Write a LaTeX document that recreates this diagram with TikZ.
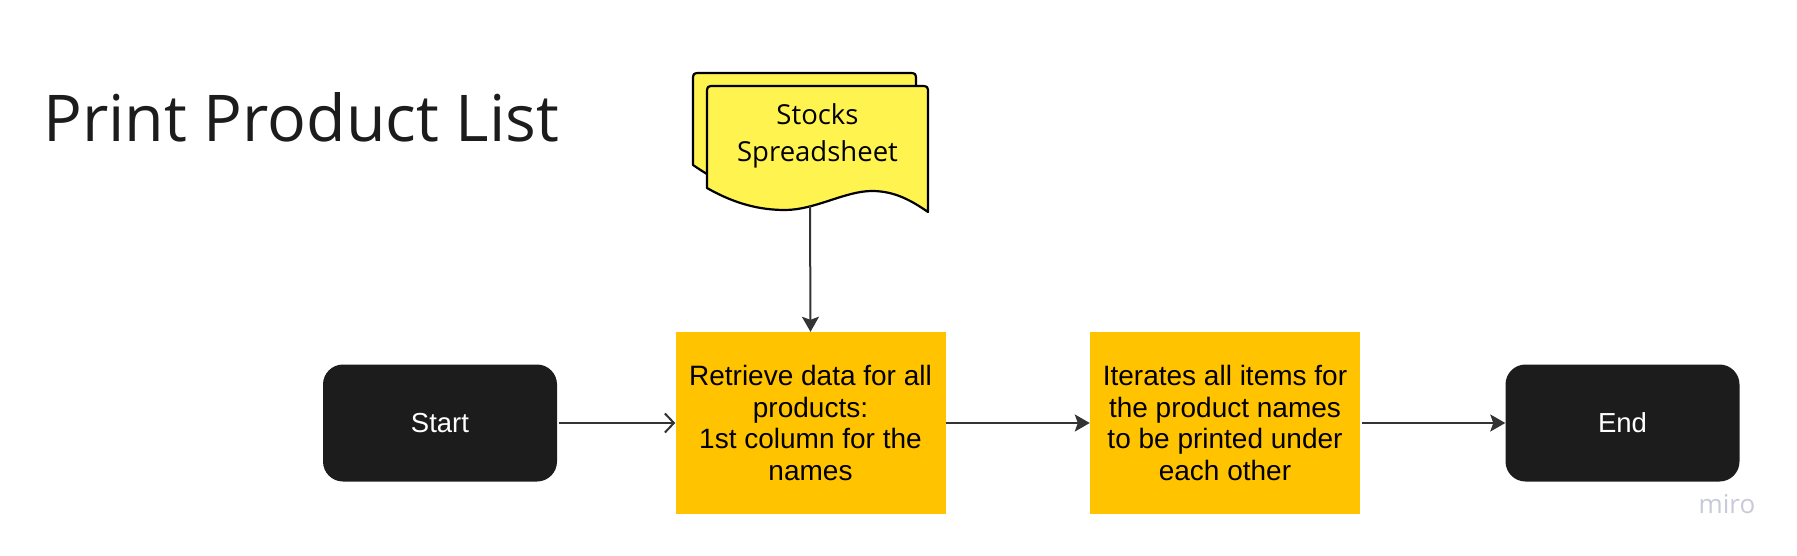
\documentclass[tikz,border=0pt]{standalone}
\usepackage{fontspec}
\setmainfont{Liberation Sans}
\newfontfamily\opensans{Open Sans}
\usetikzlibrary{arrows.meta}
\definecolor{termblack}{HTML}{1C1C1C}
\definecolor{stepamber}{HTML}{FFC300}
\definecolor{sheetyellow}{HTML}{FFF34F}
\definecolor{linkgray}{HTML}{333333}
\definecolor{miroslate}{HTML}{C9C9D9}

\begin{document}
\begin{tikzpicture}[x=1pt,y=-1pt,
  terminal/.style={fill=termblack, rounded corners=20pt, minimum width=234pt, minimum height=117pt, text=white, font=\fontsize{27.5}{30}\selectfont},
  process/.style={fill=stepamber, minimum width=270pt, minimum height=182pt, align=center, inner sep=0pt, font=\fontsize{28}{31.5}\selectfont},
  link/.style={draw=linkgray, line width=2pt, -{Stealth[length=15pt,width=17pt,inset=3pt]}},
  openlink/.style={draw=linkgray, line width=2pt, -{Straight Barb[length=9pt,width=19pt]}},
  sheetshape/.style={fill=sheetyellow, draw=black, line width=2.2pt, line join=round}]
\fill[white] (0,0) rectangle (1797,556);
\useasboundingbox (0,0) rectangle (1797,556);
% title
\node[anchor=base west, inner sep=0pt, text=termblack, font=\opensans\fontsize{64.5}{64.5}\selectfont] (title) at (43,142) {Print Product List};
% stacked document
\path[sheetshape] (693,165) -- (693,81) .. controls (693,73) .. (701,73) -- (908,73) .. controls (916,73) .. (916,81) -- (916,199)
  .. controls (898,188) and (880,178) .. (858,178) .. controls (830,178) and (800,197) .. (771,197) .. controls (745,197) and (715,180) .. cycle;
\path[sheetshape] (707,188) -- (707,94) .. controls (707,86) .. (715,86) -- (920,86) .. controls (928,86) .. (928,94) -- (928,212)
  .. controls (912,201) and (895,191) .. (872,191) .. controls (845,191) and (815,210) .. (785,210) .. controls (760,210) and (735,204) .. cycle;
\node[align=center, inner sep=0pt, font=\opensans\fontsize{27.5}{37}\selectfont] (stocks) at (817.5,136) {Stocks\\Spreadsheet};
\coordinate (sheetfoot) at (810,206);
% flow
\node[terminal] (start) at (440,423) {Start};
\node[process] (fetch) at (810.5,423) {Retrieve data for all\\products:\\1st column for the\\names};
\node[process] (loop) at (1225,423) {Iterates all items for\\the product names\\to be printed under\\each other};
\node[terminal] (finish) at (1622.5,423) {End};
\draw[link] (sheetfoot) -- (fetch.north);
\draw[openlink] ([xshift=2pt]start.east) -- (fetch.west);
\draw[link] (fetch.east) -- (loop.west);
\draw[link] ([xshift=2pt]loop.east) -- (finish.west);
\node[inner sep=0pt, text=miroslate, font=\opensans\fontsize{26}{26}\selectfont] (brand) at (1727,504) {miro};
\end{tikzpicture}
\end{document}
